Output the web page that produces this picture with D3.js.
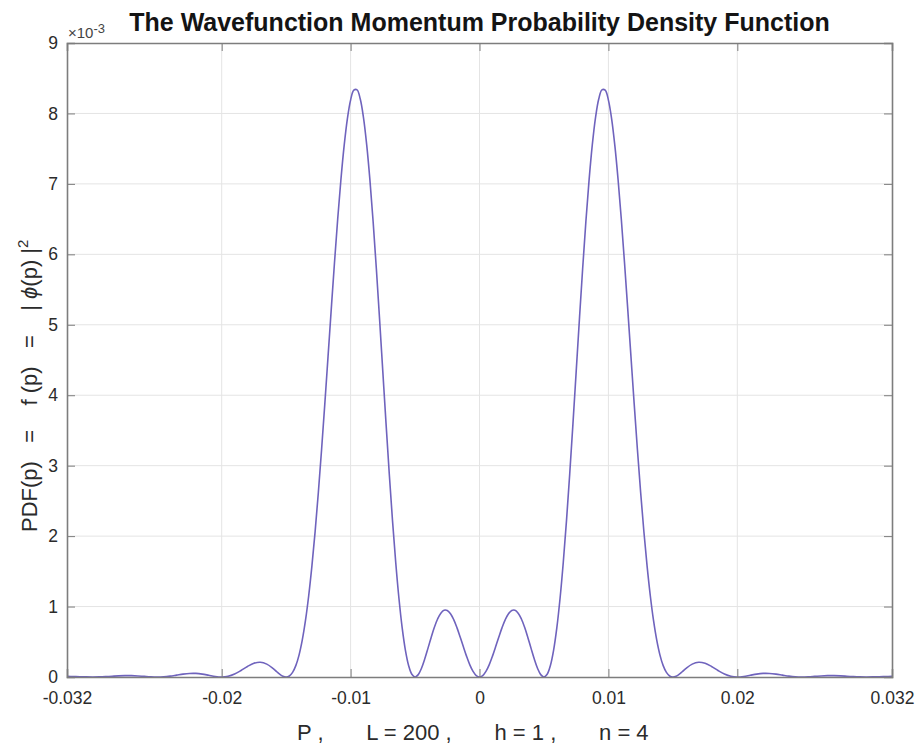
<!DOCTYPE html>
<html>
<head>
<meta charset="utf-8">
<script src="https://cdn.jsdelivr.net/npm/d3@7"></script>
<style>
  html, body { margin: 0; padding: 0; background: #fff; }
  svg { display: block; font-family: "Liberation Sans", Arial, Helvetica, sans-serif; }
  text { white-space: pre; }
</style>
</head>
<body>
<svg id="chart" width="916" height="749"></svg>
<script>
// Momentum values p (x axis)
const momentum = [
  -0.032, -0.0315, -0.031, -0.0305, -0.03, -0.0295, -0.029, -0.0285, -0.028, -0.0275,
  -0.027, -0.0265, -0.026, -0.0255, -0.025, -0.0245, -0.024, -0.0235, -0.023, -0.0225,
  -0.022, -0.0215, -0.021, -0.0205, -0.02, -0.0195, -0.019, -0.0185, -0.018, -0.0175,
  -0.017, -0.0165,
  -0.016, -0.01575, -0.0155, -0.01525, -0.015, -0.01475, -0.0145, -0.01425, -0.014, -0.01375,
  -0.0135, -0.01325, -0.013, -0.01275, -0.0125, -0.01225, -0.012, -0.01175, -0.0115, -0.01125,
  -0.011, -0.01075, -0.0105, -0.01025, -0.01, -0.00975, -0.0095, -0.00925, -0.009, -0.00875,
  -0.0085, -0.00825, -0.008, -0.00775, -0.0075, -0.00725, -0.007, -0.00675, -0.0065, -0.00625,
  -0.006, -0.00575, -0.0055, -0.00525, -0.005, -0.00475, -0.0045, -0.00425, -0.004, -0.00375,
  -0.0035, -0.00325, -0.003, -0.00275, -0.0025, -0.00225, -0.002, -0.00175, -0.0015, -0.00125,
  -0.001, -0.00075, -0.0005, -0.00025,
  0,
  0.00025, 0.0005, 0.00075, 0.001,
  0.00125, 0.0015, 0.00175, 0.002, 0.00225, 0.0025, 0.00275, 0.003, 0.00325, 0.0035,
  0.00375, 0.004, 0.00425, 0.0045, 0.00475, 0.005, 0.00525, 0.0055, 0.00575, 0.006,
  0.00625, 0.0065, 0.00675, 0.007, 0.00725, 0.0075, 0.00775, 0.008, 0.00825, 0.0085,
  0.00875, 0.009, 0.00925, 0.0095, 0.00975, 0.01, 0.01025, 0.0105, 0.01075, 0.011,
  0.01125, 0.0115, 0.01175, 0.012, 0.01225, 0.0125, 0.01275, 0.013, 0.01325, 0.0135,
  0.01375, 0.014, 0.01425, 0.0145, 0.01475, 0.015, 0.01525, 0.0155, 0.01575, 0.016,
  0.0165, 0.017, 0.0175, 0.018, 0.0185, 0.019, 0.0195, 0.02, 0.0205, 0.021,
  0.0215, 0.022, 0.0225, 0.023, 0.0235, 0.024, 0.0245, 0.025, 0.0255, 0.026,
  0.0265, 0.027, 0.0275, 0.028, 0.0285, 0.029, 0.0295, 0.03, 0.0305, 0.031,
  0.0315, 0.032
];

// PDF(p) = |phi(p)|^2, in units of 1e-3
const pdfE3 = [
  0.0088, 0.0068, 0.0039, 0.0011, 0, 0.0013, 0.0052, 0.0107, 0.0160, 0.0193,
  0.0190, 0.0150, 0.0086, 0.0026, 0, 0.0032, 0.0127, 0.0266, 0.0408, 0.0503,
  0.0509, 0.0414, 0.0247, 0.0077, 0, 0.0101, 0.0421, 0.0925, 0.1496, 0.1951,
  0.2101, 0.1830,
  0.1178, 0.0780, 0.0403, 0.0116, 0, 0.0147, 0.0652, 0.1610, 0.3111, 0.5231,
  0.8028, 1.1538, 1.5765, 2.0682, 2.6225, 3.2299, 3.8769, 4.5472, 5.2219, 5.8804,
  6.5009, 7.0617, 7.5421, 7.9235, 8.1898, 8.3297, 8.3355, 8.2051, 7.9415, 7.5530,
  7.0528, 6.4585, 5.7914, 5.0752, 4.3353, 3.5972, 2.8857, 2.2230, 1.6285, 1.1173,
  0.6999, 0.3817, 0.1629, 0.0387, 0, 0.0339, 0.1246, 0.2547, 0.4063, 0.5618,
  0.7053, 0.8236, 0.9064, 0.9474, 0.9441, 0.8981, 0.8144, 0.7011, 0.5684, 0.4282,
  0.2925, 0.1730, 0.0796, 0.0203,
  0,
  0.0203, 0.0796, 0.1730, 0.2925,
  0.4282, 0.5684, 0.7011, 0.8144, 0.8981, 0.9441, 0.9474, 0.9064, 0.8236, 0.7053,
  0.5618, 0.4063, 0.2547, 0.1246, 0.0339, 0, 0.0387, 0.1629, 0.3817, 0.6999,
  1.1173, 1.6285, 2.2230, 2.8857, 3.5972, 4.3353, 5.0752, 5.7914, 6.4585, 7.0528,
  7.5530, 7.9415, 8.2051, 8.3355, 8.3297, 8.1898, 7.9235, 7.5421, 7.0617, 6.5009,
  5.8804, 5.2219, 4.5472, 3.8769, 3.2299, 2.6225, 2.0682, 1.5765, 1.1538, 0.8028,
  0.5231, 0.3111, 0.1610, 0.0652, 0.0147, 0, 0.0116, 0.0403, 0.0780, 0.1178,
  0.1830, 0.2101, 0.1951, 0.1496, 0.0925, 0.0421, 0.0101, 0, 0.0077, 0.0247,
  0.0414, 0.0509, 0.0503, 0.0408, 0.0266, 0.0127, 0.0032, 0, 0.0026, 0.0086,
  0.0150, 0.0190, 0.0193, 0.0160, 0.0107, 0.0052, 0.0013, 0, 0.0011, 0.0039,
  0.0068, 0.0088
];

// Axis ticks and labels
const xTicks = [-0.032, -0.02, -0.01, 0, 0.01, 0.02, 0.032];
const xTickLabels = ["-0.032", "-0.02", "-0.01", "0", "0.01", "0.02", "0.032"];
const xGrid = [-0.02, -0.01, 0, 0.01, 0.02];
const yTicks = [0, 1, 2, 3, 4, 5, 6, 7, 8, 9];
const yGrid = [1, 2, 3, 4, 5, 6, 7, 8];

const titleText = "The Wavefunction Momentum Probability Density Function";
const xLabelText = "P ,       L = 200 ,       h = 1 ,       n = 4";

const svg = d3.select("#chart");
const margin = { left: 67, right: 24, top: 43, bottom: 72 };
const W = 916, H = 749;
const x0 = margin.left, x1 = W - margin.right;
const y0 = H - margin.bottom, y1 = margin.top;

const x = d3.scaleLinear().domain([-0.032, 0.032]).range([x0, x1]);
const y = d3.scaleLinear().domain([0, 9]).range([y0, y1]);

const axisColor = "#7d7d7d";
const gridColor = "#e4e4e4";
const textColor = "#2b2b2b";

// grid
svg.append("g").selectAll("line").data(xGrid).join("line")
  .attr("x1", d => x(d)).attr("x2", d => x(d))
  .attr("y1", y0).attr("y2", y1)
  .attr("stroke", gridColor).attr("stroke-width", 1);
svg.append("g").selectAll("line").data(yGrid).join("line")
  .attr("x1", x0).attr("x2", x1)
  .attr("y1", d => y(d)).attr("y2", d => y(d))
  .attr("stroke", gridColor).attr("stroke-width", 1);

// curve
const pts = momentum.map((p, i) => [p, pdfE3[i]]);
const line = d3.line()
  .x(d => x(d[0]))
  .y(d => y(d[1]))
  .curve(d3.curveCatmullRom.alpha(0.5));
svg.append("path")
  .datum(pts)
  .attr("d", line)
  .attr("fill", "none")
  .attr("stroke", "#6f63bd")
  .attr("stroke-width", 1.6)
  .attr("stroke-linejoin", "round");

// axes (bottom/left with labels, top/right as box with inner ticks)
const tickLen = 8;
const xAxisB = d3.axisBottom(x).tickValues(xTicks).tickSize(-tickLen).tickPadding(15)
  .tickFormat((d, i) => xTickLabels[i]);
const xAxisT = d3.axisTop(x).tickValues(xTicks).tickSize(-tickLen).tickFormat("");
const yAxisL = d3.axisLeft(y).tickValues(yTicks).tickSize(-tickLen).tickPadding(9)
  .tickFormat(d3.format("d"));
const yAxisR = d3.axisRight(y).tickValues(yTicks).tickSize(-tickLen).tickFormat("");

function style(g) {
  g.select(".domain").attr("stroke", axisColor).attr("stroke-width", 1.6);
  g.selectAll(".tick line").attr("stroke", axisColor).attr("stroke-width", 1);
  g.selectAll(".tick text").attr("fill", textColor)
    .attr("font-size", 17.5).attr("font-family", "Liberation Sans, Arial, sans-serif");
}
svg.append("g").attr("transform", `translate(0,${y0})`).call(xAxisB).call(style);
svg.append("g").attr("transform", `translate(0,${y1})`).call(xAxisT).call(style);
svg.append("g").attr("transform", `translate(${x0},0)`).call(yAxisL).call(style);
svg.append("g").attr("transform", `translate(${x1},0)`).call(yAxisR).call(style);

// exponent marker
const expo = svg.append("text")
  .attr("x", x0 + 1).attr("y", 38)
  .attr("fill", "#444").attr("font-size", 15);
expo.append("tspan").text("×10");
expo.append("tspan").attr("font-size", 13).attr("dy", -5).text("-3");

// title
svg.append("text")
  .attr("x", (x0 + x1) / 2).attr("y", 31)
  .attr("text-anchor", "middle")
  .attr("font-weight", "bold").attr("font-size", 25)
  .attr("fill", "#141414")
  .text(titleText);

// x label
svg.append("text")
  .attr("x", 297).attr("y", 740)
  .attr("text-anchor", "start")
  .attr("font-size", 22).attr("fill", textColor)
  .text(xLabelText);

// y label
const yl = svg.append("text")
  .attr("transform", `translate(37,${532}) rotate(-90)`)
  .attr("text-anchor", "start")
  .attr("font-size", 22).attr("fill", textColor);
yl.append("tspan").text("PDF(p)   =    f (p)   =    | ");
yl.append("tspan").attr("font-style", "italic").text("ϕ");
yl.append("tspan").text("(p) |");
yl.append("tspan").attr("font-size", 15).attr("dy", -9).text("2");
</script>
</body>
</html>
